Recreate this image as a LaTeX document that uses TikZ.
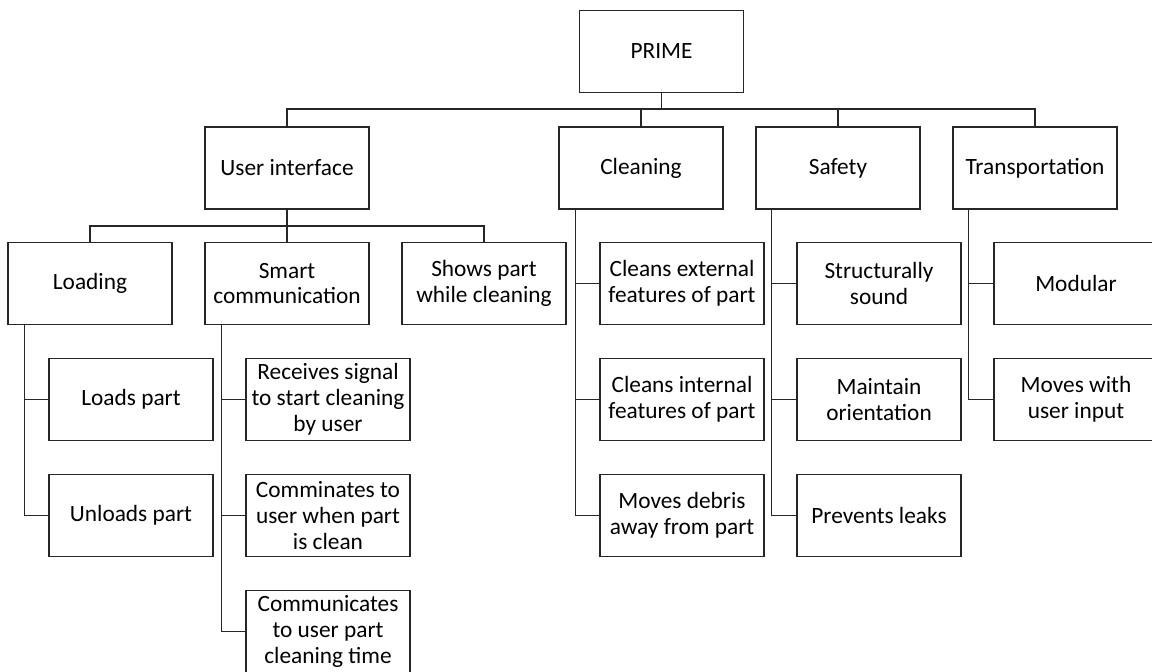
\documentclass[tikz,border=0pt]{standalone}
\usepackage{fontspec}
\setmainfont{Carlito}
\usetikzlibrary{calc}
\begin{document}
\begin{tikzpicture}[x=0.75pt,y=-0.75pt,
  box/.style={draw=black!85, line width=0.9pt, minimum width=123pt, minimum height=61.5pt,
    inner sep=1pt, align=center, font=\fontsize{17.5}{19.4}\selectfont},
  conn/.style={draw=black!85, line width=0.9pt}]
\clip (0,0) rectangle (1152,671);
\fill[white] (0,0) rectangle (1152,671);
% level 0
\node[box] (prime) at (661.5,51.5) {PRIME};
% level 1
\node[box] (ui) at (287,168) {User interface};
\node[box] (clean) at (641,168) {Cleaning};
\node[box] (safe) at (838,168) {Safety};
\node[box] (trans) at (1035,168) {Transportation};
% level 2 under UI
\node[box] (load) at (90,283.5) {Loading};
\node[box] (smart) at (287,283.5) {Smart\\communication};
\node[box] (shows) at (484,283.5) {Shows part\\while cleaning};
% loading children
\node[box] (loads) at (131,399.5) {Loads part};
\node[box] (unloads) at (131,515.5) {Unloads part};
% smart children
\node[box] (recv) at (328,399.5) {Receives signal\\to start cleaning\\by user};
\node[box] (comm1) at (328,515.5) {Comminates to\\user when part\\is clean};
\node[box] (comm2) at (328,631.5) {Communicates\\to user part\\cleaning time};
% cleaning children
\node[box] (cext) at (682,283.5) {Cleans external\\features of part};
\node[box] (cint) at (682,399.5) {Cleans internal\\features of part};
\node[box] (debris) at (682,515.5) {Moves debris\\away from part};
% safety children
\node[box] (struct) at (879,283.5) {Structurally\\sound};
\node[box] (orient) at (879,399.5) {Maintain\\orientation};
\node[box] (leaks) at (879,515.5) {Prevents leaks};
% transportation children
\node[box] (modular) at (1076,283.5) {Modular};
\node[box] (moves) at (1076,399.5) {Moves with\\user input};
% top bus
\coordinate (bus1) at (661.5,109);
\draw[conn] (prime.south) -- (bus1);
\draw[conn] (ui.north) |- (bus1);
\draw[conn] (clean.north) |- (bus1);
\draw[conn] (safe.north) |- (bus1);
\draw[conn] (trans.north) |- (bus1);
% second bus
\coordinate (bus2) at (287,226);
\draw[conn] (ui.south) -- (bus2);
\draw[conn] (load.north) |- (bus2);
\draw[conn] (smart.north) -- (bus2);
\draw[conn] (shows.north) |- (bus2);
% spines
\coordinate (sL) at ($(load.south west)+(17,0)$);
\draw[conn] (sL) |- (unloads.west);
\draw[conn] (loads.west) -- (loads.west -| sL);
\coordinate (sS) at ($(smart.south west)+(17,0)$);
\draw[conn] (sS) |- (comm2.west);
\draw[conn] (recv.west) -- (recv.west -| sS);
\draw[conn] (comm1.west) -- (comm1.west -| sS);
\coordinate (sC) at ($(clean.south west)+(17,0)$);
\draw[conn] (sC) |- (debris.west);
\draw[conn] (cext.west) -- (cext.west -| sC);
\draw[conn] (cint.west) -- (cint.west -| sC);
\coordinate (sF) at ($(safe.south west)+(16,0)$);
\draw[conn] (sF) |- (leaks.west);
\draw[conn] (struct.west) -- (struct.west -| sF);
\draw[conn] (orient.west) -- (orient.west -| sF);
\coordinate (sT) at ($(trans.south west)+(16,0)$);
\draw[conn] (sT) |- (moves.west);
\draw[conn] (modular.west) -- (modular.west -| sT);
\end{tikzpicture}
\end{document}
